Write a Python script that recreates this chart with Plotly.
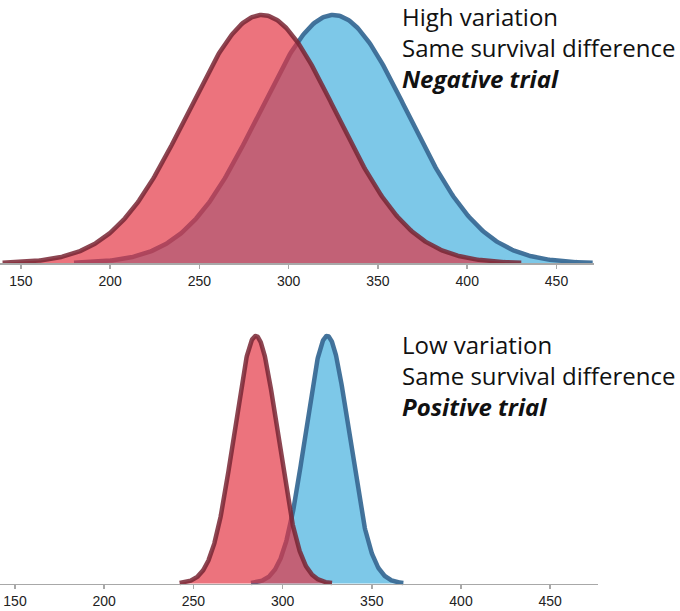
import numpy as np
import plotly.graph_objects as go

# ---- data ----
groups = ["Control", "Treatment"]
means = [285, 325]              # group means (survival)
sd_high = 41.5                  # high-variation panel SD
sd_low = 12.2                   # low-variation panel SD
span_sd = 3.5                   # curves drawn over mean +/- span_sd * SD
tick_vals = [150, 200, 250, 300, 350, 400, 450]
top_text = ["High variation", "Same survival difference", "Negative trial"]
bottom_text = ["Low variation", "Same survival difference", "Positive trial"]

W, H = 680, 611
fill_cols = ["rgba(125,200,232,1)", "rgba(227,48,63,0.68)"]
line_cols = ["rgba(58,108,150,0.95)", "rgba(120,38,52,0.85)"]

def pdf(x, m, s):
    return np.exp(-0.5 * ((x - m) / s) ** 2) / (s * np.sqrt(2 * np.pi))

fig = go.Figure()

def add_panel(sd, xa, ya):
    # draw treatment (blue) first, control (red) on top
    for idx in [1, 0]:
        m = means[idx]
        xs = np.linspace(m - span_sd * sd, m + span_sd * sd, 400)
        ys = pdf(xs, m, sd)
        ci = 0 if idx == 1 else 1
        fig.add_trace(go.Scatter(
            x=xs, y=ys, mode="lines", fill="tozeroy",
            fillcolor=fill_cols[ci],
            line=dict(color=line_cols[ci], width=4.5),
            xaxis=xa, yaxis=ya, showlegend=False, hoverinfo="skip"))

add_panel(sd_high, "x", "y")
add_panel(sd_low, "x2", "y2")

def ycfg(sd, px_zero, px_peak, px_top, px_bot):
    peak = 1 / (sd * np.sqrt(2 * np.pi))
    scale = peak / (px_zero - px_peak)
    lo = -(px_bot - px_zero) * scale
    hi = peak + (px_peak - px_top) * scale
    return dict(domain=[1 - px_bot / H, 1 - px_top / H], range=[lo, hi],
                visible=False, fixedrange=True)

axis_common = dict(
    showline=True, linecolor="#a8a8a8", linewidth=1.5,
    ticks="outside", ticklen=4, tickcolor="#a8a8a8", tickwidth=1.5,
    tickvals=tick_vals, showgrid=False, zeroline=False,
    tickfont=dict(family="Liberation Sans, Arial", size=14, color="#222"),
    anchor="free", fixedrange=True,
)

fig.update_layout(
    width=W, height=H,
    margin=dict(l=0, r=0, t=0, b=0),
    paper_bgcolor="white", plot_bgcolor="white",
    xaxis=dict(domain=[0, 594 / W], range=[138.3, 471.0],
               position=1 - 263.3 / H, **axis_common),
    yaxis=ycfg(sd_high, 263.3, 15, 6, 272),
    xaxis2=dict(domain=[0, 598 / W], range=[141.6, 476.8],
                position=1 - 583.5 / H, **axis_common),
    yaxis2=ycfg(sd_low, 583.5, 336, 327, 592),
)

def add_text(lines, yc):
    txt = "<br>".join([lines[0], lines[1], f"<b><i>{lines[2]}</i></b>"])
    fig.add_annotation(
        x=401 / W, y=1 - yc / H, xref="paper", yref="paper",
        xanchor="left", yanchor="middle", align="left", showarrow=False,
        borderpad=0, text=txt,
        font=dict(family="Open Sans", size=24, color="#111"))

add_text(top_text, 47.5)
add_text(bottom_text, 375)

fig.write_html("out.html",
               config={"displayModeBar": False, "staticPlot": True},
               post_script="document.body.style.margin='0';"
                           "document.body.style.overflow='hidden';")
